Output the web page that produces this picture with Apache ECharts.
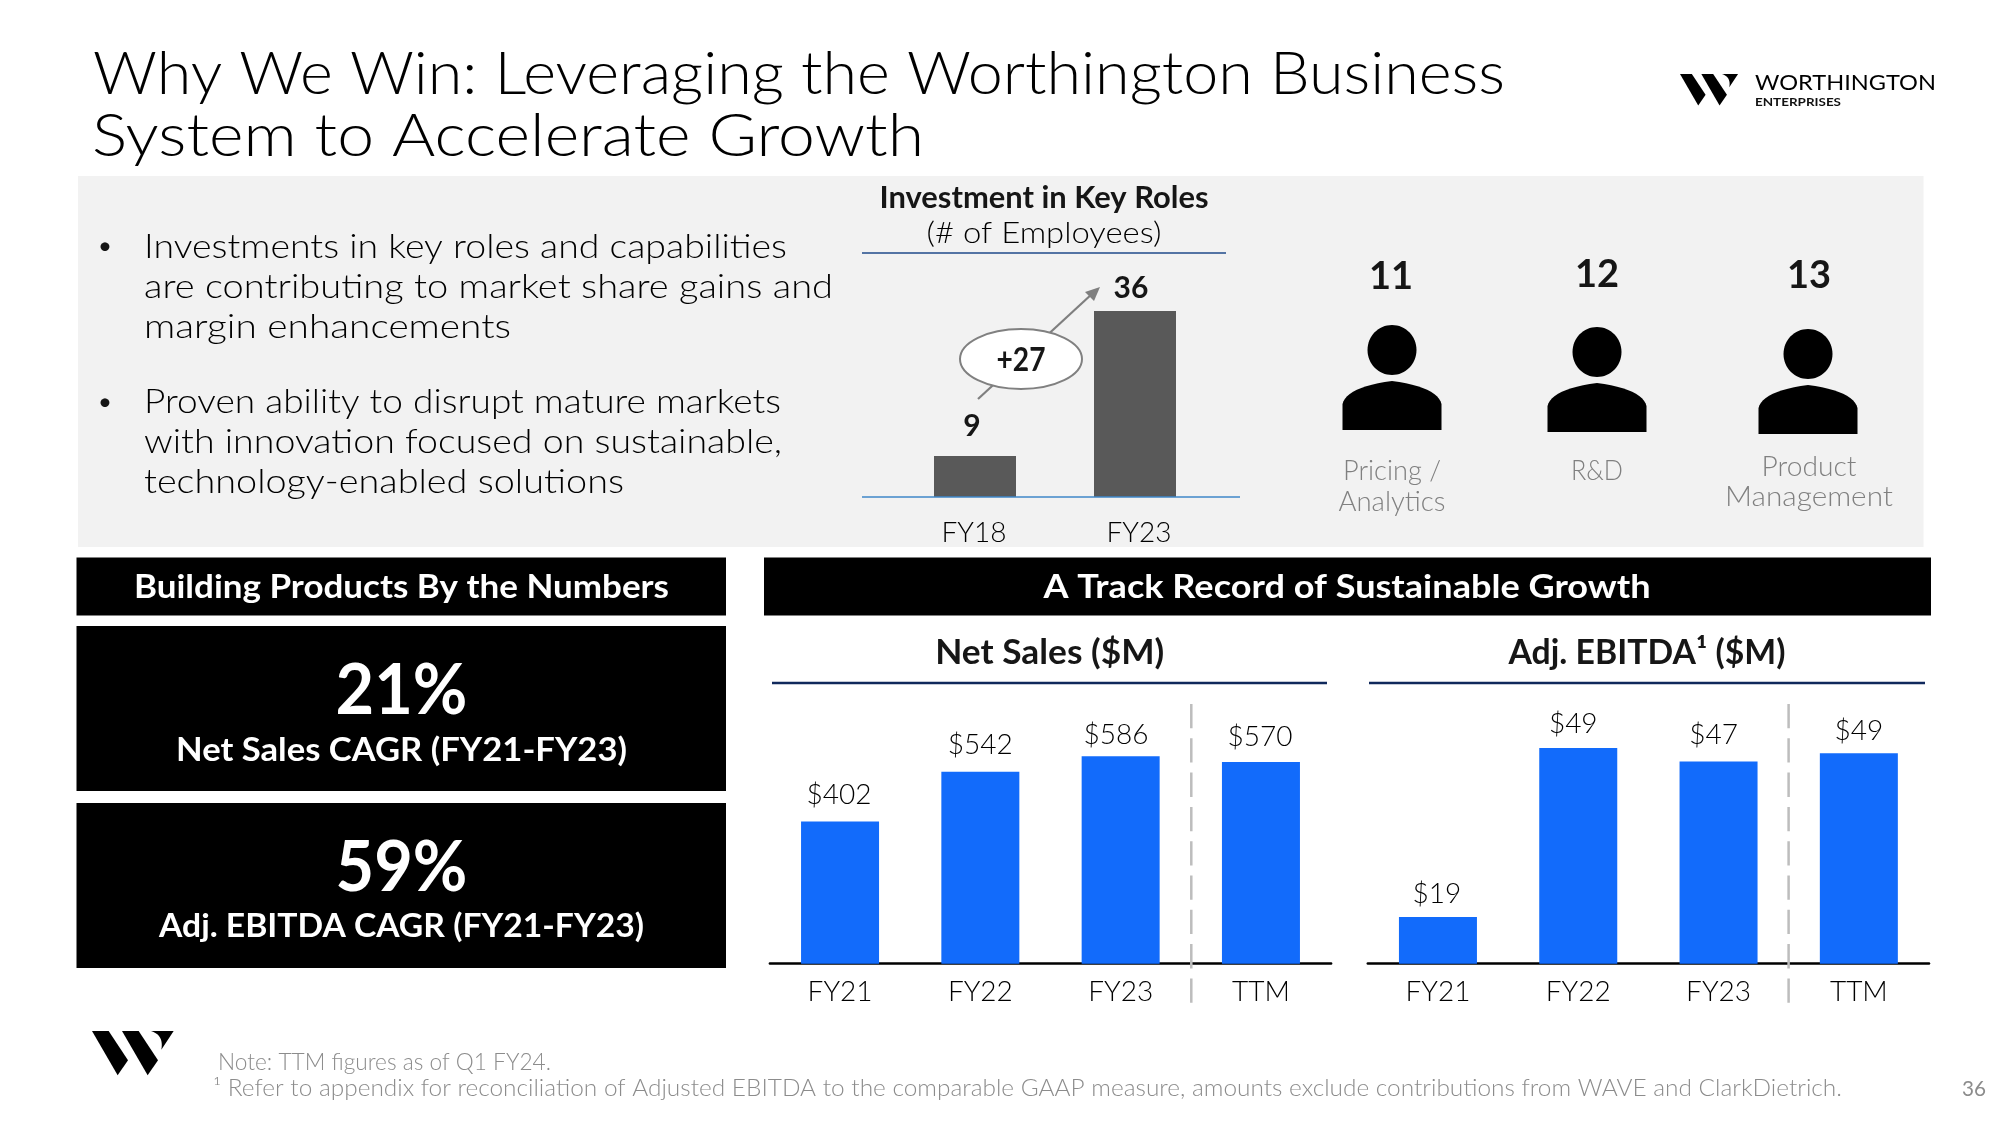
<!DOCTYPE html>
<html>
<head>
<meta charset="utf-8">
<style>html,body{margin:0;padding:0;background:#fff}#main{width:2000px;height:1125px}</style>
<script src="https://cdn.jsdelivr.net/npm/echarts@6/dist/echarts.min.js"></script>
</head>
<body>
<div id="main"></div>
<script>
const periods = ['FY21', 'FY22', 'FY23', 'TTM']
const netSales = [402, 542, 586, 570]
const adjEbitda = [19.4, 49.4, 47, 48.5]
const roleYears = ['FY18', 'FY23']
const roleCounts = [9, 36]
const hireCounts = ['11', '12', '13']

const FONT = 'Lato'
const INK = '#161616'
const GREY = '#808080'
const BLUE = '#126bfb'
const NAVY = '#10295c'

// text helper, w = width in the picture so the substitute font gets stretched to fit
const ctx = document.createElement('canvas').getContext('2d')
function t(x, y, text, size, o = {}) {
    const weight = o.bold ? 'bold' : (o.light ? 300 : 'normal')
    ctx.font = `${weight} ${size}px ${FONT}`
    const sx = o.w ? o.w / ctx.measureText(text).width : 1
    return {
        type: 'text', x, y: y + 1.5, scaleX: sx, z: 10,
        style: {
            x: 0, y: 0, text, fill: o.color || INK, fontFamily: FONT, fontSize: size, fontWeight: weight,
            textAlign: o.align || 'left', textVerticalAlign: 'middle'
        }
    }
}

function box(x, y, w, h, fill) {
    return { type: 'rect', shape: { x, y, width: w, height: h }, style: { fill }, z: 0 }
}

function rule(x1, x2, y, color, width) {
    return { type: 'line', shape: { x1, y1: y, x2, y2: y }, style: { stroke: color, lineWidth: width }, z: 3 }
}

function divider(x) {
    return {
        type: 'line', shape: { x1: x, y1: 704, x2: x, y2: 1003 }, z: 8,
        style: { stroke: '#bdbdbd', lineWidth: 2.5, lineDash: [24.3, 10] }
    }
}

// points along a quadratic curve, graphic has no free path type
function quad(p0, p1, p2) {
    const out = []
    for (let i = 0; i <= 12; i++) {
        const u = i / 12
        out.push([
            (1 - u) * (1 - u) * p0[0] + 2 * u * (1 - u) * p1[0] + u * u * p2[0],
            (1 - u) * (1 - u) * p0[1] + 2 * u * (1 - u) * p1[1] + u * u * p2[1]
        ])
    }
    return out
}

function logo(x, y, k) {
    const pts = [
        [[0, 0], [50, 0], [108, 88], [77, 133]],
        [[90, 0], [140, 0], [198, 88], [167, 133]],
        [[245, 0], [208, 56], ...quad([208, 56], [216, 12], [177, 0])]
    ]
    return pts.map(p => ({
        type: 'polygon', z: 5,
        shape: { points: p.map(q => [x + q[0] * k, y + q[1] * k]) },
        style: { fill: '#000' }
    }))
}

function person(cx, headY, top, bottom) {
    const l = cx - 49.5
    const r = cx + 49.5
    const s = top + 23
    const body = [
        [l, bottom],
        ...quad([l, s], [l + 4, top + 6], [cx, top]),
        ...quad([cx, top], [r - 4, top + 6], [r, s]),
        [r, bottom]
    ]
    return [
        { type: 'ellipse', shape: { cx, cy: headY, rx: 24.5, ry: 25 }, style: { fill: '#000' }, z: 5 },
        { type: 'polygon', shape: { points: body }, style: { fill: '#000' }, z: 5 }
    ]
}

const graphics = [
    box(78, 176, 1845.5, 371, '#f2f2f2'),
    box(76.5, 557.5, 649.5, 58, '#000'),
    box(764, 557.5, 1167, 58, '#000'),
    box(76.5, 626, 649.5, 165, '#000'),
    box(76.5, 803, 649.5, 165, '#000'),

    t(93, 73, 'Why We Win: Leveraging the Worthington Business', 60, { w: 1412, light: true, color: '#000' }),
    t(92, 135.5, 'System to Accelerate Growth', 60, { w: 832, light: true, color: '#000' }),

    t(1755, 81, 'WORTHINGTON', 22, { w: 181, color: '#000' }),
    t(1755, 101, 'ENTERPRISES', 12, { w: 86, bold: true, color: '#111' }),
    ...logo(1680, 74, 0.237),
    ...logo(92, 1031, 1 / 3),

    t(98, 245, '•', 24),
    t(144, 246, 'Investments in key roles and capabilities', 34, { w: 643, light: true, color: '#000' }),
    t(144, 285.5, 'are contributing to market share gains and', 34, { w: 689, light: true, color: '#000' }),
    t(144, 326, 'margin enhancements', 34, { w: 367, light: true, color: '#000' }),
    t(98, 401, '•', 24),
    t(144, 401, 'Proven ability to disrupt mature markets', 34, { w: 637, light: true, color: '#000' }),
    t(144, 441, 'with innovation focused on sustainable,', 34, { w: 638, light: true, color: '#000' }),
    t(144, 481, 'technology-enabled solutions', 34, { w: 480, light: true, color: '#000' }),

    t(1044, 197, 'Investment in Key Roles', 30, { bold: true, align: 'center', w: 329 }),
    t(1044, 232, '(# of Employees)', 30, { align: 'center', w: 235, light: true, color: '#000' }),
    rule(862, 1226, 253, '#1f4a8a', 1.5),
    rule(862, 1240, 497, '#3f87c9', 1.5),

    { type: 'line', shape: { x1: 978, y1: 399, x2: 1093, y2: 293 }, style: { stroke: '#7f7f7f', lineWidth: 2.2 }, z: 4 },
    { type: 'polygon', shape: { points: [[1100, 287], [1094, 301], [1085, 292]] }, style: { fill: '#7f7f7f' }, z: 4 },
    { type: 'ellipse', shape: { cx: 1021, cy: 359, rx: 61, ry: 30 }, style: { fill: '#fff', stroke: '#808080', lineWidth: 2 }, z: 5 },
    t(1021, 359, '+27', 32, { bold: true, align: 'center', w: 49 }),

    t(1391, 275, hireCounts[0], 38, { bold: true, align: 'center' }),
    t(1597, 273, hireCounts[1], 38, { bold: true, align: 'center' }),
    t(1809, 274, hireCounts[2], 38, { bold: true, align: 'center' }),
    ...person(1392, 350, 381, 430),
    ...person(1597, 352, 383, 432),
    ...person(1808, 354, 385, 434),
    t(1392, 469, 'Pricing /', 28, { color: GREY, align: 'center', w: 98, light: true }),
    t(1392, 500, 'Analytics', 28, { color: GREY, align: 'center', w: 107, light: true }),
    t(1597, 469, 'R&D', 28, { color: GREY, align: 'center', w: 52, light: true }),
    t(1809, 465, 'Product', 28, { color: GREY, align: 'center', w: 95, light: true }),
    t(1809, 495, 'Management', 28, { color: GREY, align: 'center', w: 168, light: true }),

    t(401.5, 586, 'Building Products By the Numbers', 33, { bold: true, color: '#fff', align: 'center', w: 535 }),
    t(1347, 586, 'A Track Record of Sustainable Growth', 33, { bold: true, color: '#fff', align: 'center', w: 607 }),
    t(401.5, 690, '21%', 70, { bold: true, color: '#fff', align: 'center', w: 132 }),
    t(401.5, 749, 'Net Sales CAGR (FY21-FY23)', 33, { bold: true, color: '#fff', align: 'center', w: 451 }),
    t(401.5, 867, '59%', 70, { bold: true, color: '#fff', align: 'center', w: 132 }),
    t(401.5, 925, 'Adj. EBITDA CAGR (FY21-FY23)', 33, { bold: true, color: '#fff', align: 'center', w: 485 }),

    t(1049.7, 652, 'Net Sales ($M)', 34, { bold: true, align: 'center', w: 229 }),
    rule(772, 1327, 683, NAVY, 2.5),
    t(1647, 652, 'Adj. EBITDA¹ ($M)', 34, { bold: true, align: 'center', w: 277 }),
    rule(1369, 1925, 683, NAVY, 2.5),
    divider(1191.3),
    divider(1788.6),

    t(218, 1061, 'Note: TTM figures as of Q1 FY24.', 24, { color: '#8c8c8c', w: 333, light: true }),
    t(213, 1087, '¹ Refer to appendix for reconciliation of Adjusted EBITDA to the comparable GAAP measure, amounts exclude contributions from WAVE and ClarkDietrich.', 24, { color: '#8c8c8c', w: 1629, light: true }),
    t(1962, 1087, '36', 22, { color: '#8c8c8c', w: 24 })
]

function blueBars(values, gridIndex, fmt, nudges) {
    return {
        type: 'bar', xAxisIndex: gridIndex, yAxisIndex: gridIndex, barWidth: 78,
        itemStyle: { color: BLUE },
        data: values.map((v, i) => ({ value: v, label: { offset: nudges[i] } })),
        label: {
            show: true, position: 'top', distance: 0, formatter: p => fmt(p.value),
            fontFamily: FONT, fontSize: 28, fontWeight: 300, lineHeight: 30, color: '#000'
        }
    }
}

function catAxis(data, gridIndex, margin, lineShow) {
    return {
        type: 'category', gridIndex, data,
        axisTick: { show: false },
        axisLine: { show: lineShow, onZero: false, lineStyle: { color: '#000', width: 2.5 } },
        axisLabel: { fontFamily: FONT, fontSize: 28, fontWeight: 300, color: '#000', margin, interval: 0 }
    }
}

const option = {
    backgroundColor: '#fff',
    animation: false,
    graphic: { elements: graphics },
    grid: [
        { left: 895, top: 290, width: 320, height: 207 },
        { left: 769.9, top: 700, width: 561.2, height: 263.7 },
        { left: 1367.8, top: 700, width: 561.2, height: 263.7 }
    ],
    xAxis: [
        // FY23 label sits a little right of its bar in the slide
        catAxis([{ value: roleYears[0], textStyle: { padding: [0, 2, 0, 0] } }, { value: roleYears[1], textStyle: { padding: [0, 0, 0, 8] } }], 0, 22, false),
        catAxis(periods, 1, 14, true),
        catAxis(periods, 2, 14, true)
    ],
    // the source slide does not start its bars at zero on the roles and EBITDA panels
    yAxis: [
        { type: 'value', gridIndex: 0, show: false, min: 1.37, max: 39.9 },
        { type: 'value', gridIndex: 1, show: false, min: 0, max: 745 },
        { type: 'value', gridIndex: 2, show: false, min: 11.1, max: 57.94 }
    ],
    series: [
        {
            type: 'bar', xAxisIndex: 0, yAxisIndex: 0, barWidth: 82,
            itemStyle: { color: '#595959' },
            data: roleCounts.map((v, i) => ({ value: v, label: { offset: [[-3, -16], [-4, -9]][i] } })),
            label: {
                show: true, position: 'top', distance: 0,
                fontFamily: FONT, fontSize: 30, lineHeight: 28, fontWeight: 'bold', color: INK
            }
        },
        blueBars(netSales, 1, v => '$' + v, [[-1, -11], [0, -12], [-4.6, -6], [-1, -9.5]]),
        blueBars(adjEbitda, 2, v => '$' + Math.round(v), [[-1, -8], [-5, -9], [-5, -12], [0, -7.6]])
    ]
}

const myChart = echarts.init(document.getElementById('main'))
myChart.setOption(option)
</script>
</body>
</html>
